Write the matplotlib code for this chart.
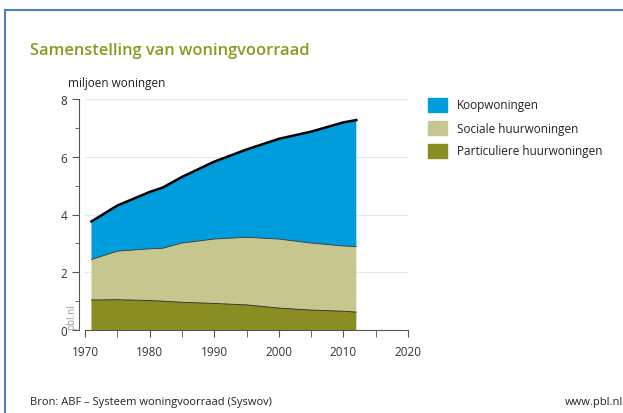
import matplotlib
matplotlib.use("Agg")
import matplotlib.pyplot as plt
from matplotlib.patches import Rectangle
import numpy as np

# values in millions of dwellings
years = [1971, 1975, 1980, 1982, 1985, 1990, 1995, 2000, 2005, 2010, 2012]
totaal = [3.76, 4.31, 4.78, 4.93, 5.30, 5.83, 6.25, 6.62, 6.87, 7.19, 7.27]
sociaal_top = [2.44, 2.73, 2.81, 2.83, 3.01, 3.15, 3.21, 3.15, 3.01, 2.91, 2.89]
particulier = [1.04, 1.05, 1.02, 1.00, 0.96, 0.92, 0.87, 0.76, 0.69, 0.65, 0.62]

labels = ["Koopwoningen", "Sociale huurwoningen", "Particuliere huurwoningen"]
colors = ["#009ddc", "#c6c78f", "#8a8d22"]

sociaal = list(np.array(sociaal_top) - np.array(particulier))
koop = list(np.array(totaal) - np.array(sociaal_top))

plt.rcParams['font.family'] = ['Open Sans', 'DejaVu Sans']

fig = plt.figure(figsize=(6.23, 4.14), dpi=100)
fig.patch.set_facecolor("white")

# blue frame (left and top edges visible)
fig.add_artist(plt.Line2D([5/623, 5/623], [0, 1 - 11/414], color="#4f81bd", lw=1.5,
                          transform=fig.transFigure))
fig.add_artist(plt.Line2D([5/623, 1], [1 - 11/414, 1 - 11/414], color="#4f81bd", lw=1.5,
                          transform=fig.transFigure))

ax = fig.add_axes([85/623, 83/414, 323/623, 231/414])
ax.stackplot(years, particulier, sociaal, koop, colors=colors[::-1], lw=0)
ax.plot(years, totaal, color="black", lw=1.8)
ax.plot(years, sociaal_top, color="#333333", lw=0.6)
ax.plot(years, particulier, color="#222222", lw=0.6)

ax.set_xlim(1970, 2020)
ax.set_ylim(0, 8)
ax.set_yticks([0, 2, 4, 6, 8])
ax.set_yticks([1, 3, 5, 7], minor=True)
ax.set_xticks([1970, 1980, 1990, 2000, 2010, 2020])
ax.set_xticks([1975, 1985, 1995, 2005, 2015], minor=True)
ax.grid(axis="y", color="#e6e6e6", lw=0.8)
ax.set_axisbelow(True)
for s in ["top", "right"]:
    ax.spines[s].set_visible(False)
ax.spines["left"].set_position(("outward", 4.5))
ax.spines["left"].set_color("#555555")
ax.spines["bottom"].set_color("#555555")
ax.tick_params(axis="both", which="both", color="#555555", labelsize=8.5, labelcolor="#333333")
ax.tick_params(axis="y", which="major", length=5)
ax.tick_params(axis="y", which="minor", length=3)
ax.tick_params(axis="x", which="major", length=5, pad=6)
ax.tick_params(axis="x", which="minor", length=5)

fig.text(77.5/623, 1 - 330/414, "pbl.nl", rotation=90, fontsize=7,
         color="#999999", ha="right", va="bottom")

fig.text(30/623, 1 - 51/414, "Samenstelling van woningvoorraad", fontsize=11.8,
         fontweight="semibold", color="#8a9a1e", va="center")
fig.text(68/623, 1 - 84/414, "miljoen woningen", fontsize=8.5, color="#222222", va="center")
fig.text(30/623, 1 - 403/414, "Bron: ABF \u2013 Systeem woningvoorraad (Syswov)", fontsize=8,
         color="#222222", va="center")
fig.text(565/623, 1 - 403/414, "www.pbl.nl", fontsize=8, color="#222222", va="center")

# legend
for i, (lab, col) in enumerate(zip(labels, colors)):
    y = 106 + 23 * i
    fig.add_artist(Rectangle((428/623, 1 - (y + 7)/414), 19/623, 14/414, color=col,
                             transform=fig.transFigure))
    fig.text(457/623, 1 - y/414, lab, fontsize=8.5, color="#222222", va="center")

fig.savefig("out.png", dpi=100)
